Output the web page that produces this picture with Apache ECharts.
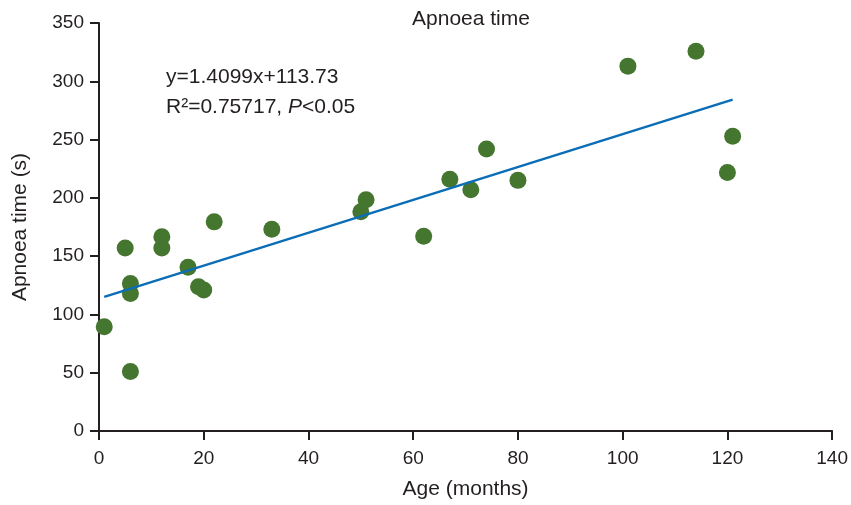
<!DOCTYPE html>
<html>
<head>
<meta charset="utf-8">
<script src="https://cdn.jsdelivr.net/npm/echarts@6/dist/echarts.min.js"></script>
<style>html,body{margin:0;padding:0;background:#fff}#c{width:851px;height:505px}</style>
</head>
<body>
<div id="c"></div>
<script>
var ageMonths = [1, 5, 6, 6, 6, 12, 12, 17, 19, 20, 22, 33, 50, 51, 62, 67, 71, 74, 80, 101, 114, 120, 121];
var apnoeaTime = [89.5, 157, 126.5, 118, 51, 166.7, 157, 140.4, 123.7, 121, 179.4, 173, 188, 198.3, 167, 216, 207, 242, 215, 313, 325.7, 221.8, 252.8];
var trendX = [1, 121];
var trendY = [115.1, 284.3];
var xTicks = [0, 20, 40, 60, 80, 100, 120, 140];
var yTicks = [0, 50, 100, 150, 200, 250, 300, 350];

var pts = ageMonths.map(function (x, i) { return [x, apnoeaTime[i]]; });
var trend = trendX.map(function (x, i) { return [x, trendY[i]]; });
var font = 'Liberation Sans, Arial, sans-serif';
var ink = '#231f20';

var chart = echarts.init(document.getElementById('c'), null, {renderer: 'canvas'});
chart.setOption({
  animation: false,
  backgroundColor: '#fff',
  title: [{
    text: 'Apnoea time',
    left: 466, top: 4, textAlign: 'center',
    textStyle: {fontFamily: font, fontSize: 21, fontWeight: 'normal', color: ink}
  }, {
    text: '{a|y=1.4099x+113.73}\n{a|R²=0.75717, }{i|P}{a|<0.05}',
    left: 161, top: 57,
    textStyle: {
      fontFamily: font, fontSize: 21, fontWeight: 'normal', color: ink, lineHeight: 30,
      rich: {
        a: {fontFamily: font, fontSize: 21, color: ink, lineHeight: 30},
        i: {fontFamily: font, fontSize: 21, color: ink, fontStyle: 'italic', lineHeight: 30}
      }
    }
  }],
  grid: {left: 99, right: 17, top: 23, bottom: 69, containLabel: false},
  xAxis: {
    type: 'value', min: 0, max: 140, interval: 20,
    name: 'Age (months)', nameLocation: 'middle', nameGap: 48,
    nameTextStyle: {fontFamily: font, fontSize: 21, color: ink},
    axisLine: {show: true, lineStyle: {color: ink, width: 2}},
    axisTick: {show: true, length: 9, lineStyle: {color: ink, width: 2}},
    axisLabel: {fontFamily: font, fontSize: 19, color: ink, margin: 18,
      formatter: function (v) { return xTicks.indexOf(v) >= 0 ? String(v) : ''; }},
    splitLine: {show: false}
  },
  yAxis: {
    type: 'value', min: 0, max: 350, interval: 50,
    name: 'Apnoea time (s)', nameLocation: 'middle', nameGap: 68, nameRotate: 90,
    nameTextStyle: {fontFamily: font, fontSize: 21, color: ink},
    axisLine: {show: true, lineStyle: {color: ink, width: 2}},
    axisTick: {show: true, length: 9, lineStyle: {color: ink, width: 2}},
    axisLabel: {fontFamily: font, fontSize: 19, color: ink, margin: 15,
      formatter: function (v) { return yTicks.indexOf(v) >= 0 ? String(v) : ''; }},
    splitLine: {show: false}
  },
  series: [{
    type: 'scatter',
    data: pts,
    symbol: 'circle',
    symbolSize: 17,
    itemStyle: {color: '#44762f', opacity: 1},
    z: 2
  }, {
    type: 'line',
    data: trend,
    showSymbol: false,
    symbol: 'none',
    lineStyle: {color: '#0a6db5', width: 2.5},
    z: 3
  }]
});
</script>
</body>
</html>
